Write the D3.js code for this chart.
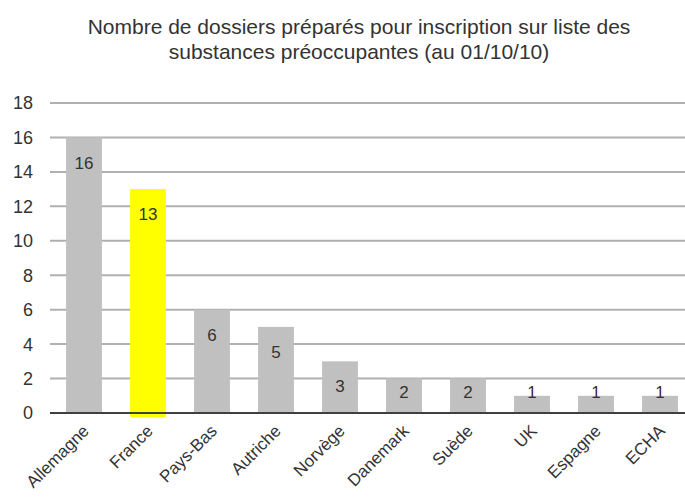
<html>
<head>
<meta charset="utf-8">
<script src="https://d3js.org/d3.v7.min.js"></script>
<style>
  body { margin: 0; background: white; }
  text { font-family: "Liberation Sans", Arial, sans-serif; fill: #333; }
</style>
</head>
<body>
<svg id="chart" width="685" height="497"></svg>
<script>
const pays = ["Allemagne", "France", "Pays-Bas", "Autriche", "Norvège", "Danemark", "Suède", "UK", "Espagne", "ECHA"];
const dossiers = [16, 13, 6, 5, 3, 2, 2, 1, 1, 1];
const yTicks = [0, 2, 4, 6, 8, 10, 12, 14, 16, 18];
const titre = ["Nombre de dossiers préparés pour inscription sur liste des",
               "substances préoccupantes (au 01/10/10)"];

const svg = d3.select("#chart");

const x = d3.scaleBand().domain(pays).range([52, 692]).paddingInner(0.44).paddingOuter(0.22);
const y = d3.scaleLinear().domain([0, 18]).range([413, 103]);

// title
svg.append("g").selectAll("text")
  .data(titre)
  .enter().append("text")
  .attr("x", 359)
  .attr("y", (d, i) => 34 + i * 25)
  .attr("text-anchor", "middle")
  .style("font-size", "21px")
  .text(d => d);

// gridlines
svg.append("g").selectAll("line")
  .data(yTicks.filter(t => t > 0))
  .enter().append("line")
  .attr("x1", 50).attr("x2", 685)
  .attr("y1", d => y(d)).attr("y2", d => y(d))
  .attr("stroke", "#b0b0b0")
  .attr("stroke-width", 2);

// y tick labels
svg.append("g").selectAll("text")
  .data(yTicks)
  .enter().append("text")
  .attr("x", 33)
  .attr("y", d => y(d))
  .attr("dy", "0.36em")
  .attr("text-anchor", "end")
  .style("font-size", "18px")
  .text(d => d);

// bars
svg.append("g").selectAll("rect")
  .data(dossiers)
  .enter().append("rect")
  .attr("x", (d, i) => x(pays[i]))
  .attr("width", x.bandwidth())
  .attr("y", d => y(d))
  .attr("height", (d, i) => y(0) - y(d) + (pays[i] == "France" ? 4 : 0))
  .attr("fill", (d, i) => pays[i] == "France" ? "#ffff00" : "#c0c0c0");

// axis line
svg.append("line")
  .attr("x1", 50).attr("x2", 685)
  .attr("y1", y(0)).attr("y2", y(0))
  .attr("stroke", "#404040")
  .attr("stroke-width", 2);

// value labels
svg.append("g").selectAll("text")
  .data(dossiers)
  .enter().append("text")
  .attr("x", (d, i) => x(pays[i]) + x.bandwidth() / 2)
  .attr("y", d => Math.min(y(d) + 25, 392))
  .attr("dy", "0.36em")
  .attr("text-anchor", "middle")
  .style("font-size", "17px")
  .text(d => d);

// category labels
svg.append("g").selectAll("text")
  .data(pays)
  .enter().append("text")
  .attr("transform", d => "translate(" + (x(d) + x.bandwidth() / 2 + 6) + ",432) rotate(-45)")
  .attr("text-anchor", "end")
  .style("font-size", "17px")
  .text(d => d);
</script>
</body>
</html>
